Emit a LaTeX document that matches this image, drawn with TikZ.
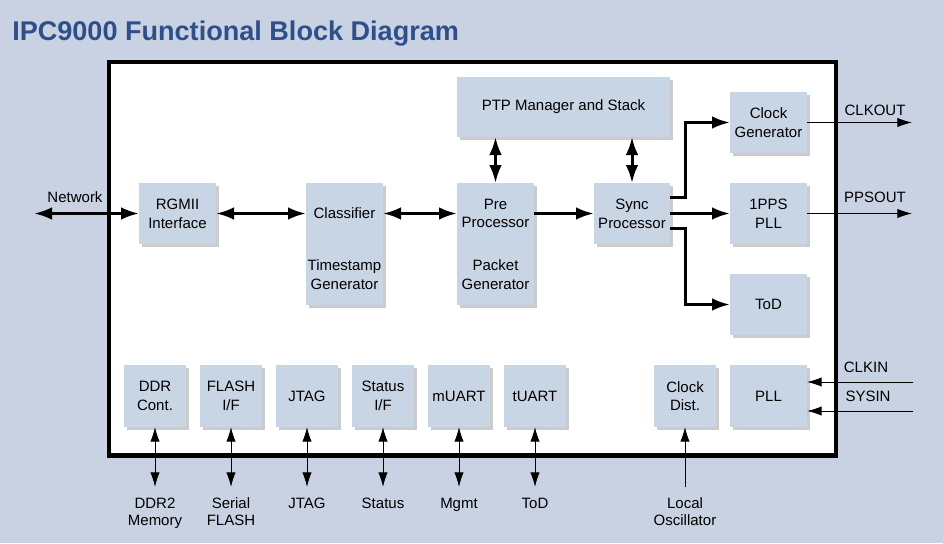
\documentclass[tikz,border=0pt]{standalone}
\usepackage{fontspec}
\setmainfont{Liberation Sans}
\usepackage{tikz}
\usetikzlibrary{arrows.meta,positioning,calc,shadows}
\definecolor{bgblue}{RGB}{200,210,227}
\definecolor{boxblue}{RGB}{200,213,229}
\definecolor{titleblue}{RGB}{47,79,138}
\tikzset{%
blocknode/.style={rectangle, fill=boxblue, anchor=north west, minimum width=57.75pt, minimum height=45.75pt, inner sep=1pt, outer sep=0pt, align=center, font=\fontsize{11.25}{14}\selectfont, drop shadow={shadow xshift=2pt, shadow yshift=-2pt, fill=black, opacity=0.2}},
smallnode/.style={blocknode, minimum width=46.5pt, minimum height=46.5pt},
lbl/.style={align=center, inner sep=0pt, font=\fontsize{11.25}{13}\selectfont},
bus/.style={line width=2.25pt, >={Latex[length=13.5pt,width=9.5pt]}},
sig/.style={line width=0.75pt, >={Latex[length=11pt,width=7pt]}}
}
\begin{document}
\begin{tikzpicture}[x=0.75pt, y=-0.75pt]
	\useasboundingbox[fill=bgblue] (0,0) rectangle (943,543);
	\node[anchor=base west, inner sep=0pt, text=titleblue, font=\fontsize{20.3}{24}\selectfont\bfseries] (title) at (12,40.5) {IPC9000 Functional Block Diagram};
	
	% chip outline
	\node[draw, line width=3.4pt, fill=white, minimum width=545.25pt, minimum height=295.1pt, drop shadow={shadow xshift=1.5pt, shadow yshift=-1.5pt, fill=black, opacity=0.2}] (chip) at (472.5,258.75) {};
	
	% data path
	\node[blocknode, minimum width=159.75pt, minimum height=45pt] (ptp) at (457,77) {PTP Manager and Stack};
	\node[blocknode] (clkgen) at (730,92) {Clock\\Generator};
	\node[blocknode] (rgmii) at (139,183) {RGMII\\Interface};
	\node[blocknode] (classifier) at (306,183) {Classifier};
	\node[blocknode] (tsgen) at (classifier.south west) {Timestamp\\Generator};
	\node[blocknode] (pre) at (457,183) {Pre\\Processor};
	\node[blocknode] (pktgen) at (pre.south west) {Packet\\Generator};
	\node[blocknode, minimum width=57pt] (sync) at (594,183) {Sync\\Processor};
	\node[blocknode] (pps) at (730,183) {1PPS\\PLL};
	\node[blocknode] (tod) at (730,274) {ToD};
	
	% peripherals
	\node[smallnode] (ddr) at (124,365) {DDR\\Cont.};
	\node[smallnode, right=10.5pt of ddr] (flash) {FLASH\\I/F};
	\node[smallnode, right=10.5pt of flash] (jtag) {JTAG};
	\node[smallnode, right=10.5pt of jtag] (status) {Status\\I/F};
	\node[smallnode, right=10.5pt of status] (muart) {mUART};
	\node[smallnode, right=10.5pt of muart] (tuart) {tUART};
	\node[smallnode] (clkdist) at (654,365) {Clock\\Dist.};
	\node[blocknode, minimum height=46.5pt] (pll) at (730,365) {PLL};
	
	\coordinate (netend) at (34,213.5);
	\draw[bus,<->] (netend) -- (rgmii.west);
	\node[lbl] (netlbl) at (75,197) {Network};
	\draw[bus,<->] (rgmii) -- (classifier);
	\draw[bus,<->] (classifier) -- (pre);
	\draw[bus,->] (pre) -- (sync);
	\draw[bus,<->] (pre.north) -- (pre.north |- ptp.south);
	\draw[bus,<->] (sync.north) -- (sync.north |- ptp.south);
	\draw[bus,->] ($(sync.east)+(0,-16)$) -- ++(15,0) |- (clkgen.west);
	\draw[bus,->] (sync) -- (pps);
	\draw[bus,->] ($(sync.east)+(0,15)$) -- ++(15,0) |- (tod.west);
	
	% outputs and inputs
	\coordinate (clkout) at (912,122.5);
	\draw[sig,->] (clkgen) -- (clkout);
	\node[lbl] (clkoutlbl) at (875,110) {CLKOUT};
	\coordinate (ppsout) at (912,213.5);
	\draw[sig,->] (pps) -- (ppsout);
	\node[lbl] (ppsoutlbl) at (875,197) {PPSOUT};
	\coordinate (clkin) at (913,382);
	\draw[sig,->] (clkin) -- (clkin -| pll.east);
	\node[lbl] (clkinlbl) at (866,367) {CLKIN};
	\coordinate (sysin) at (913,411);
	\draw[sig,->] (sysin) -- (sysin -| pll.east);
	\node[lbl] (sysinlbl) at (868,396) {SYSIN};
	
	\foreach \blk/\txt in {ddr/{DDR2\\Memory}, flash/{Serial\\FLASH}, jtag/JTAG, status/Status, muart/Mgmt, tuart/ToD}{
		\coordinate (\blk end) at ($(\blk.south)+(0,60)$);
		\draw[sig,<->] (\blk.south) -- (\blk end);
		\node[lbl, anchor=north] (\blk lbl) at ($(\blk end)+(0,10.5)$) {\txt};
	}
	\coordinate (osc) at (685,487);
	\draw[sig,->] (osc) -- (clkdist.south);
	\node[lbl, anchor=north] (osclbl) at (685,497.5) {Local\\Oscillator};
\end{tikzpicture}
\end{document}
